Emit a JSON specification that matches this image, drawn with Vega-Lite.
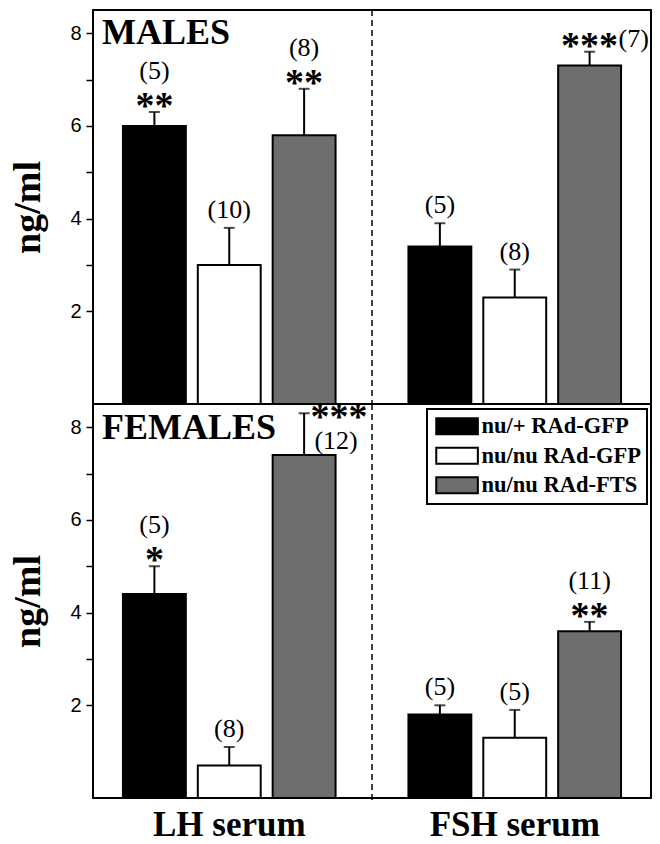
{
  "$schema": "https://vega.github.io/schema/vega-lite/v6.json",
  "background": "white",
  "padding": {"left": 8, "top": 8, "right": 4, "bottom": 0},
  "bounds": "flush",
  "spacing": 0,
  "datasets": {
    "d": [
      {"sex": "Males", "hormone": "LH serum", "group": "nu/+ RAd-GFP", "value": 6.0, "upper": 6.3, "n": "(5)", "stars": "**"},
      {"sex": "Males", "hormone": "LH serum", "group": "nu/nu RAd-GFP", "value": 3.0, "upper": 3.8, "n": "(10)", "stars": ""},
      {"sex": "Males", "hormone": "LH serum", "group": "nu/nu RAd-FTS", "value": 5.8, "upper": 6.8, "n": "(8)", "stars": "**"},
      {"sex": "Males", "hormone": "FSH serum", "group": "nu/+ RAd-GFP", "value": 3.4, "upper": 3.9, "n": "(5)", "stars": ""},
      {"sex": "Males", "hormone": "FSH serum", "group": "nu/nu RAd-GFP", "value": 2.3, "upper": 2.9, "n": "(8)", "stars": ""},
      {"sex": "Males", "hormone": "FSH serum", "group": "nu/nu RAd-FTS", "value": 7.3, "upper": 7.6, "n": "(7)", "stars": "***"},
      {"sex": "Females", "hormone": "LH serum", "group": "nu/+ RAd-GFP", "value": 4.4, "upper": 5.0, "n": "(5)", "stars": "*"},
      {"sex": "Females", "hormone": "LH serum", "group": "nu/nu RAd-GFP", "value": 0.7, "upper": 1.1, "n": "(8)", "stars": ""},
      {"sex": "Females", "hormone": "LH serum", "group": "nu/nu RAd-FTS", "value": 7.4, "upper": 8.3, "n": "(12)", "stars": "***"},
      {"sex": "Females", "hormone": "FSH serum", "group": "nu/+ RAd-GFP", "value": 1.8, "upper": 2.0, "n": "(5)", "stars": ""},
      {"sex": "Females", "hormone": "FSH serum", "group": "nu/nu RAd-GFP", "value": 1.3, "upper": 1.9, "n": "(5)", "stars": ""},
      {"sex": "Females", "hormone": "FSH serum", "group": "nu/nu RAd-FTS", "value": 3.6, "upper": 3.8, "n": "(11)", "stars": "**"}
    ]
  },
  "config": {
    "view": {"stroke": "black", "strokeWidth": 2},
    "axisY": {
      "domain": false, "grid": false, "tickSize": 7, "tickWidth": 1.5, "tickColor": "black",
      "labelFont": "Liberation Sans", "labelFontSize": 20, "labelColor": "black", "labelPadding": 5,
      "titleFont": "Liberation Serif", "titleFontSize": 38, "titleFontWeight": "bold", "titleColor": "black", "titlePadding": 22
    },
    "text": {"font": "Liberation Serif", "color": "black"}
  },
  "resolve": {"legend": {"fill": "independent"}},
  "vconcat": [
    {
      "width": 558, "height": 394,
      "layer": [
        {
          "data": {"name": "d"},
          "transform": [{"filter": "datum.sex == 'Males'"}],
          "mark": {"type": "bar", "stroke": "black", "strokeWidth": 2},
          "encoding": {
            "x": {"field": "hormone", "type": "nominal", "title": null, "axis": null, "scale": {"domain": ["LH serum", "FSH serum"], "paddingInner": 0.0455, "paddingOuter": 0}},
            "xOffset": {"field": "group", "type": "nominal", "scale": {"domain": ["nu/+ RAd-GFP", "nu/nu RAd-GFP", "nu/nu RAd-FTS"], "paddingInner": 0.16, "paddingOuter": 0.4}},
            "y": {"field": "value", "type": "quantitative", "title": "ng/ml", "scale": {"domain": [0, 8.5], "nice": false},
              "axis": {"values": [2, 3, 4, 5, 6, 7, 8], "labelExpr": "datum.value % 2 == 0 ? datum.label : ''"}},
            "fill": {"field": "group", "type": "nominal", "legend": null, "scale": {"domain": ["nu/+ RAd-GFP", "nu/nu RAd-GFP", "nu/nu RAd-FTS"], "range": ["#000000", "#ffffff", "#6e6e6e"]}}
          }
        },
        {
          "data": {"name": "d"},
          "transform": [{"filter": "datum.sex == 'Males'"}],
          "mark": {"type": "rule", "color": "black", "strokeWidth": 2},
          "encoding": {
            "x": {"field": "hormone", "type": "nominal"},
            "xOffset": {"field": "group", "type": "nominal"},
            "y": {"field": "value", "type": "quantitative"},
            "y2": {"field": "upper"}
          }
        },
        {
          "data": {"name": "d"},
          "transform": [{"filter": "datum.sex == 'Males'"}],
          "mark": {"type": "tick", "color": "black", "size": 11, "thickness": 2, "orient": "horizontal"},
          "encoding": {
            "x": {"field": "hormone", "type": "nominal"},
            "xOffset": {"field": "group", "type": "nominal"},
            "y": {"field": "upper", "type": "quantitative"}
          }
        },
        {
          "data": {"name": "d"},
          "transform": [{"filter": "datum.sex == 'Males' && datum.stars == ''"}],
          "mark": {"type": "text", "fontSize": 26, "baseline": "alphabetic", "dy": -10},
          "encoding": {
            "x": {"field": "hormone", "type": "nominal"},
            "xOffset": {"field": "group", "type": "nominal"},
            "y": {"field": "upper", "type": "quantitative"},
            "text": {"field": "n"}
          }
        },
        {
          "data": {"name": "d"},
          "transform": [{"filter": "datum.sex == 'Males' && datum.stars != ''"}],
          "mark": {"type": "text", "fontSize": 38, "fontWeight": "bold", "baseline": "alphabetic", "dy": 6},
          "encoding": {
            "x": {"field": "hormone", "type": "nominal"},
            "xOffset": {"field": "group", "type": "nominal"},
            "y": {"field": "upper", "type": "quantitative"},
            "text": {"field": "stars"}
          }
        },
        {
          "data": {"name": "d"},
          "transform": [{"filter": "datum.sex == 'Males' && datum.stars != '' && datum.hormone == 'LH serum'"}],
          "mark": {"type": "text", "fontSize": 26, "baseline": "alphabetic", "dy": -33},
          "encoding": {
            "x": {"field": "hormone", "type": "nominal"},
            "xOffset": {"field": "group", "type": "nominal"},
            "y": {"field": "upper", "type": "quantitative"},
            "text": {"field": "n"}
          }
        },
        {
          "data": {"name": "d"},
          "transform": [{"filter": "datum.sex == 'Males' && datum.stars != '' && datum.hormone == 'FSH serum'"}],
          "mark": {"type": "text", "fontSize": 26, "baseline": "alphabetic", "align": "left", "dx": 29, "dy": -5},
          "encoding": {
            "x": {"field": "hormone", "type": "nominal"},
            "xOffset": {"field": "group", "type": "nominal"},
            "y": {"field": "upper", "type": "quantitative"},
            "text": {"field": "n"}
          }
        },
        {
          "data": {"values": [{"label": "MALES"}]},
          "mark": {"type": "text", "fontSize": 36, "fontWeight": "bold", "align": "left", "baseline": "alphabetic", "dx": 9, "dy": 34},
          "encoding": {
            "x": {"datum": "LH serum", "type": "nominal", "bandPosition": 0},
            "y": {"datum": 8.5, "type": "quantitative"},
            "text": {"field": "label"}
          }
        },
        {
          "data": {"values": [{"label": "divider"}]},
          "mark": {"type": "rule", "color": "black", "strokeWidth": 1.5, "strokeDash": [6, 4]},
          "encoding": {
            "x": {"datum": "LH serum", "type": "nominal", "bandPosition": 1.024}
          }
        }
      ]
    },
    {
      "width": 558, "height": 394,
      "layer": [
        {
          "data": {"name": "d"},
          "transform": [{"filter": "datum.sex == 'Females'"}],
          "mark": {"type": "bar", "stroke": "black", "strokeWidth": 2},
          "encoding": {
            "x": {"field": "hormone", "type": "nominal", "title": null, "scale": {"domain": ["LH serum", "FSH serum"], "paddingInner": 0.0455, "paddingOuter": 0},
              "axis": {"labelFont": "Liberation Serif", "labelFontSize": 35, "labelFontWeight": "bold", "labelColor": "black", "ticks": false, "domain": false, "labelPadding": 9, "labelAngle": 0, "labelBaseline": "top"}},
            "xOffset": {"field": "group", "type": "nominal", "scale": {"domain": ["nu/+ RAd-GFP", "nu/nu RAd-GFP", "nu/nu RAd-FTS"], "paddingInner": 0.16, "paddingOuter": 0.4}},
            "y": {"field": "value", "type": "quantitative", "title": "ng/ml", "scale": {"domain": [0, 8.5], "nice": false},
              "axis": {"values": [2, 3, 4, 5, 6, 7, 8], "labelExpr": "datum.value % 2 == 0 ? datum.label : ''"}},
            "fill": {"field": "group", "type": "nominal", "title": null,
              "scale": {"domain": ["nu/+ RAd-GFP", "nu/nu RAd-GFP", "nu/nu RAd-FTS"], "range": ["#000000", "#ffffff", "#6e6e6e"]},
              "legend": {
                "orient": "none", "legendX": 334, "legendY": 5, "padding": 6,
                "strokeColor": "black", "fillColor": "white",
                "symbolType": "M-1,-1H4.2V1H-1Z", "symbolSize": 256,
                "symbolStrokeColor": "black", "symbolStrokeWidth": 2,
                "labelFont": "Liberation Serif", "labelFontSize": 22.5, "labelFontWeight": "bold", "labelColor": "black",
                "labelOffset": 26, "labelLimit": 300, "rowPadding": 4.5,
                "encode": {"legend": {"update": {"strokeWidth": {"value": 2}}}}
              }
            }
          }
        },
        {
          "data": {"name": "d"},
          "transform": [{"filter": "datum.sex == 'Females'"}],
          "mark": {"type": "rule", "color": "black", "strokeWidth": 2},
          "encoding": {
            "x": {"field": "hormone", "type": "nominal"},
            "xOffset": {"field": "group", "type": "nominal"},
            "y": {"field": "value", "type": "quantitative"},
            "y2": {"field": "upper"}
          }
        },
        {
          "data": {"name": "d"},
          "transform": [{"filter": "datum.sex == 'Females'"}],
          "mark": {"type": "tick", "color": "black", "size": 11, "thickness": 2, "orient": "horizontal"},
          "encoding": {
            "x": {"field": "hormone", "type": "nominal"},
            "xOffset": {"field": "group", "type": "nominal"},
            "y": {"field": "upper", "type": "quantitative"}
          }
        },
        {
          "data": {"name": "d"},
          "transform": [{"filter": "datum.sex == 'Females' && datum.stars == ''"}],
          "mark": {"type": "text", "fontSize": 26, "baseline": "alphabetic", "dy": -10},
          "encoding": {
            "x": {"field": "hormone", "type": "nominal"},
            "xOffset": {"field": "group", "type": "nominal"},
            "y": {"field": "upper", "type": "quantitative"},
            "text": {"field": "n"}
          }
        },
        {
          "data": {"name": "d"},
          "transform": [{"filter": "datum.sex == 'Females' && datum.stars != '' && !(datum.hormone == 'LH serum' && datum.group == 'nu/nu RAd-FTS')"}],
          "mark": {"type": "text", "fontSize": 38, "fontWeight": "bold", "baseline": "alphabetic", "dy": 6},
          "encoding": {
            "x": {"field": "hormone", "type": "nominal"},
            "xOffset": {"field": "group", "type": "nominal"},
            "y": {"field": "upper", "type": "quantitative"},
            "text": {"field": "stars"}
          }
        },
        {
          "data": {"name": "d"},
          "transform": [{"filter": "datum.sex == 'Females' && datum.stars != '' && !(datum.hormone == 'LH serum' && datum.group == 'nu/nu RAd-FTS')"}],
          "mark": {"type": "text", "fontSize": 26, "baseline": "alphabetic", "dy": -33},
          "encoding": {
            "x": {"field": "hormone", "type": "nominal"},
            "xOffset": {"field": "group", "type": "nominal"},
            "y": {"field": "upper", "type": "quantitative"},
            "text": {"field": "n"}
          }
        },
        {
          "data": {"name": "d"},
          "transform": [{"filter": "datum.sex == 'Females' && datum.hormone == 'LH serum' && datum.group == 'nu/nu RAd-FTS'"}],
          "mark": {"type": "text", "fontSize": 38, "fontWeight": "bold", "baseline": "alphabetic", "dx": 35, "dy": 16},
          "encoding": {
            "x": {"field": "hormone", "type": "nominal"},
            "xOffset": {"field": "group", "type": "nominal"},
            "y": {"field": "upper", "type": "quantitative"},
            "text": {"field": "stars"}
          }
        },
        {
          "data": {"name": "d"},
          "transform": [{"filter": "datum.sex == 'Females' && datum.hormone == 'LH serum' && datum.group == 'nu/nu RAd-FTS'"}],
          "mark": {"type": "text", "fontSize": 26, "baseline": "alphabetic", "dx": 32, "dy": 36},
          "encoding": {
            "x": {"field": "hormone", "type": "nominal"},
            "xOffset": {"field": "group", "type": "nominal"},
            "y": {"field": "upper", "type": "quantitative"},
            "text": {"field": "n"}
          }
        },
        {
          "data": {"values": [{"label": "FEMALES"}]},
          "mark": {"type": "text", "fontSize": 36, "fontWeight": "bold", "align": "left", "baseline": "alphabetic", "dx": 9, "dy": 35},
          "encoding": {
            "x": {"datum": "LH serum", "type": "nominal", "bandPosition": 0},
            "y": {"datum": 8.5, "type": "quantitative"},
            "text": {"field": "label"}
          }
        },
        {
          "data": {"values": [{"label": "divider"}]},
          "mark": {"type": "rule", "color": "black", "strokeWidth": 1.5, "strokeDash": [6, 4], "clip": false},
          "encoding": {
            "x": {"datum": "LH serum", "type": "nominal", "bandPosition": 1.024},
            "y": {"datum": 8.5, "type": "quantitative"},
            "y2": {"datum": -0.12}
          }
        }
      ]
    }
  ]
}
